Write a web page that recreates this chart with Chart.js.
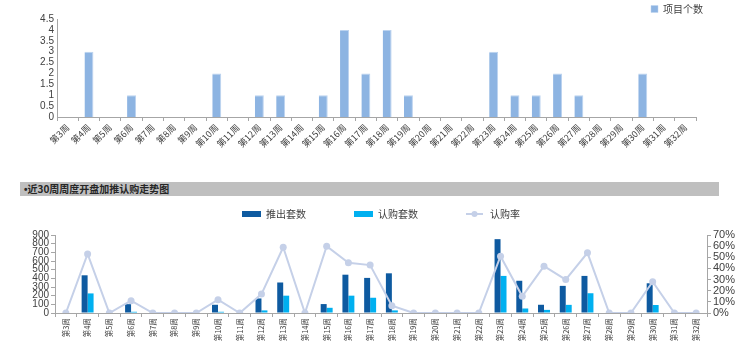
<!DOCTYPE html>
<html>
<head>
<meta charset="utf-8">
<script src="https://cdn.jsdelivr.net/npm/chart.js@4.4.1/dist/chart.umd.min.js"></script>
<style>
  html, body { margin: 0; padding: 0; background: #fff; width: 740px; height: 359px; overflow: hidden; }
  #top { position: absolute; left: 0; top: 0; width: 740px; height: 160px; }
  #hdr { position: absolute; left: 20px; top: 182px; width: 699px; height: 14px; background: #BFBFBF;
         font: bold 10px "Noto Sans CJK SC", sans-serif; color: #262626; line-height: 14px; padding-left: 4px; box-sizing: border-box; }
  #hdr b { font-family: "Liberation Sans", sans-serif; }
  #bot { position: absolute; left: 0; top: 200px; width: 740px; height: 159px; }
</style>
</head>
<body>
<div id="top"><canvas id="c1"></canvas></div>
<div id="hdr"><b>•</b>近30周周度开盘加推认购走势图</div>
<div id="bot"><canvas id="c2"></canvas></div>
<script>
const weeks = ['第3周','第4周','第5周','第6周','第7周','第8周','第9周','第10周','第11周','第12周','第13周','第14周','第15周','第16周','第17周','第18周','第19周','第20周','第21周','第22周','第23周','第24周','第25周','第26周','第27周','第28周','第29周','第30周','第31周','第32周'];
const projectCount = [0,3,0,1,0,0,0,2,0,1,1,0,1,4,2,4,1,0,0,0,3,1,1,2,1,0,0,2,0,0];
const launched  = [0,435,0,102,0,0,0,95,0,168,352,0,103,442,405,458,0,0,0,0,852,372,95,313,428,0,0,343,0,0];
const subscribed= [0,226,0,14,0,0,0,14,0,30,200,0,60,200,176,30,0,0,0,0,428,52,36,94,228,0,0,92,0,0];
const subRate   = [0,53,0,11,0,0,0,12,0,17,59,0,60,45,43,6.5,0,0,0,0,51,15,42,30,54,0,0,28,0,0];

const CJK = '"Noto Sans CJK SC", sans-serif';
const FONT = '"Liberation Sans", "Noto Sans CJK SC", sans-serif';
const TXT = '#404040';
const AXIS = '#A6A6A6';
const LINEC = '#C5D0E8';
Chart.defaults.animation = false;
Chart.defaults.font.family = FONT;
Chart.defaults.color = TXT;

// fixes legend box height and text position
function legendPos(height, textCenterY) {
  return {
    id: 'legendPos',
    beforeLayout(chart) {
      const lg = chart.legend;
      if (lg && !lg._fixedH) {
        const f = lg.fit;
        lg.fit = function () { f.call(this); this.height = height; };
        lg._fixedH = true;
      }
    },
    afterLayout(chart) {
      const lg = chart.legend;
      if (!lg) return;
      const lo = lg.options.labels;
      const fs = lo.font.size;
      const ih = Math.max(fs, lo.boxHeight || fs);
      lg.top = textCenterY - lo.padding - ih / 2;
      lg.bottom = Math.max(lg.top + height, height);
    }
  };
}

new Chart(document.getElementById('c1'), {
  type: 'bar',
  data: { labels: weeks, datasets: [{
    label: '项目个数', data: projectCount, yAxisID: 'y',
    backgroundColor: '#8DB4E2', borderColor: '#BCD3EF', borderWidth: {top: 1, right: 1, left: 0, bottom: 0},
    barPercentage: 1, categoryPercentage: 0.42
  }]},
  options: {
    responsive: true, maintainAspectRatio: false,
    layout: { padding: { left: 0, right: 34, top: 0, bottom: 0 } },
    plugins: {
      legend: { position: 'top', align: 'end',
        labels: { boxWidth: 7, boxHeight: 7, font: { size: 10, family: CJK }, color: TXT, padding: 3 } },
      tooltip: { enabled: false }
    },
    scales: {
      x: { grid: { display: true, drawOnChartArea: false, color: AXIS, tickLength: 4, offset: true },
           border: { color: AXIS },
           ticks: { autoSkip: false, minRotation: 45, maxRotation: 45, font: { size: 9, family: CJK }, color: TXT, padding: 1 },
           afterFit: s => { s.height = 43; } },
      y: { min: 0, max: 4.5, grid: { display: false, drawTicks: false }, border: { color: AXIS, display: true },
           ticks: { stepSize: 0.5, autoSkip: false, font: { size: 10 }, color: TXT, padding: 3, callback: v => String(v) },
           afterFit: s => { s.width = 57; } },
      yr: { position: 'right', display: true, grid: { display: false, drawTicks: false }, border: { display: false },
            ticks: { display: false }, afterFit: s => { s.width = 10; } }
    }
  },
  plugins: [legendPos(19, 9)]
});

const lineLegendPlugin = {
  id: 'lineLegend',
  afterDraw(chart) {
    const lg = chart.legend;
    if (!lg || !lg.legendHitBoxes) return;
    const idx = lg.legendItems.findIndex(it => it.datasetIndex === 0);
    const hb = lg.legendHitBoxes[idx];
    if (!hb) return;
    const ctx = chart.ctx;
    const cy = hb.top + hb.height / 2;
    ctx.save();
    ctx.strokeStyle = LINEC;
    ctx.lineWidth = 2;
    ctx.beginPath();
    ctx.moveTo(hb.left, cy); ctx.lineTo(hb.left + 17, cy); ctx.stroke();
    ctx.fillStyle = LINEC;
    ctx.beginPath(); ctx.arc(hb.left + 8.5, cy, 3, 0, Math.PI * 2); ctx.fill();
    ctx.restore();
  }
};

new Chart(document.getElementById('c2'), {
  type: 'bar',
  data: { labels: weeks, datasets: [
    { type: 'line', label: '认购率', data: subRate, yAxisID: 'y2', borderColor: LINEC, backgroundColor: LINEC,
      borderWidth: 2, pointRadius: 3.5, pointBackgroundColor: LINEC, pointBorderWidth: 0, tension: 0, order: 0 },
    { label: '推出套数', data: launched, yAxisID: 'y', backgroundColor: '#0E5AA0', borderWidth: 0,
      barPercentage: 1, categoryPercentage: 0.55, order: 1 },
    { label: '认购套数', data: subscribed, yAxisID: 'y', backgroundColor: '#00B0F0', borderWidth: 0,
      barPercentage: 1, categoryPercentage: 0.55, order: 1 }
  ]},
  options: {
    responsive: true, maintainAspectRatio: false,
    layout: { padding: { left: 22, right: 0, top: 0, bottom: 0 } },
    plugins: {
      legend: { position: 'top', align: 'center',
        labels: { boxWidth: 19, boxHeight: 6, font: { size: 10, family: CJK }, color: TXT, padding: 48,
          sort: (a, b) => [1,2,0].indexOf(a.datasetIndex) - [1,2,0].indexOf(b.datasetIndex),
          generateLabels(chart) {
            const items = Chart.defaults.plugins.legend.labels.generateLabels(chart);
            items.forEach(it => {
              it.lineWidth = 0;
              if (it.datasetIndex === 0) { it.fillStyle = 'rgba(0,0,0,0)'; it.strokeStyle = 'rgba(0,0,0,0)'; }
            });
            return items;
          }
        } },
      tooltip: { enabled: false }
    },
    scales: {
      x: { grid: { display: true, drawOnChartArea: false, color: AXIS, tickLength: 4, offset: true },
           border: { color: AXIS },
           ticks: { autoSkip: false, minRotation: 90, maxRotation: 90, font: { size: 7.5, family: CJK }, color: TXT, padding: 1 },
           afterFit: s => { s.height = 46; } },
      y: { position: 'left', min: 0, max: 900, grid: { display: true, drawOnChartArea: false, color: AXIS, tickLength: 4 }, border: { color: AXIS },
           ticks: { stepSize: 100, autoSkip: false, font: { size: 10 }, color: TXT, padding: 2 },
           afterFit: s => { s.width = 33; } },
      y2: { position: 'right', min: 0, max: 70, grid: { display: true, drawOnChartArea: false, color: AXIS, tickLength: 4 }, border: { color: AXIS },
           ticks: { stepSize: 10, autoSkip: false, font: { size: 11 }, color: TXT, padding: 2, callback: v => v + '%' },
           afterFit: s => { s.width = 33; } }
    }
  },
  plugins: [lineLegendPlugin, legendPos(35, 14)]
});
</script>
</body>
</html>
